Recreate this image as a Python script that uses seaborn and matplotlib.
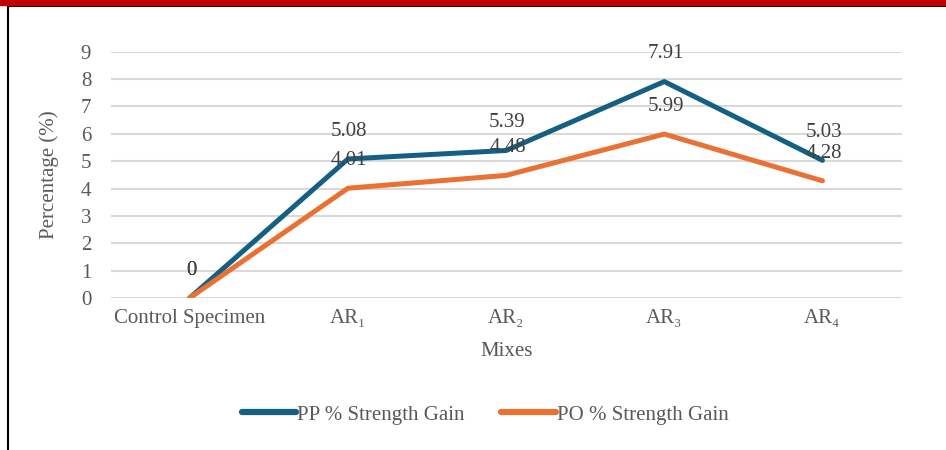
import pandas as pd
import matplotlib.pyplot as plt
import seaborn as sns
from matplotlib.lines import Line2D

# Data
mixes = ["Control Specimen", "AR\u2081", "AR\u2082", "AR\u2083", "AR\u2084"]
pp_gain = [0, 5.08, 5.39, 7.91, 5.03]
po_gain = [0, 4.01, 4.48, 5.99, 4.28]
series_names = ["PP % Strength Gain", "PO % Strength Gain"]

df = pd.DataFrame({
    "Mixes": mixes * 2,
    "pos": list(range(len(mixes))) * 2,
    "Percentage": pp_gain + po_gain,
    "Series": [series_names[0]] * len(mixes) + [series_names[1]] * len(mixes),
})

sns.set_theme(style="white")
plt.rcParams["font.family"] = ["Liberation Serif", "DejaVu Serif"]
text_col = "#595959"
colors = {series_names[0]: "#156082", series_names[1]: "#E97132"}

fig = plt.figure(figsize=(9.46, 4.5), dpi=100)
ax = fig.add_axes([0.117, 0.338, 0.836, 0.547])

sns.lineplot(data=df, x="pos", y="Percentage", hue="Series", palette=colors,
             linewidth=3.6, ax=ax, legend=False, zorder=3)

# data labels above each point
for name, vals in zip(series_names, [pp_gain, po_gain]):
    for i, v in enumerate(vals):
        ax.annotate(f"{v:g}", (i, v), xytext=(1, 20), textcoords="offset points",
                    ha="center", va="center", fontsize=15, color="#404040", zorder=4)

ax.set_xlim(-0.5, len(mixes) - 0.5)
ax.set_ylim(0, 9)
ax.set_yticks(range(0, 10))
ax.set_xticks(range(len(mixes)))
ax.set_xticklabels(mixes)
ax.grid(axis="y", color="#D9D9D9", linewidth=1.5, zorder=0)
ax.grid(axis="x", visible=False)
for s in ax.spines.values():
    s.set_visible(False)
ax.tick_params(axis="both", length=0, labelsize=15, labelcolor=text_col)
ax.tick_params(axis="y", pad=14)
ax.tick_params(axis="x", pad=8)
ax.set_xlabel("Mixes", fontsize=15, color=text_col, labelpad=10)
ax.set_ylabel("Percentage (%)", fontsize=15, color=text_col, labelpad=16)

handles = [Line2D([0], [0], color=colors[n], linewidth=4.5, solid_capstyle="round")
           for n in series_names]
fig.legend(handles, series_names, loc="center", bbox_to_anchor=(0.513, 0.078),
           ncol=2, frameon=False, fontsize=15, handlelength=2.6,
           handletextpad=0.05, columnspacing=1.75, labelcolor=text_col)

# red band at top and black frame edges
fig.patches.append(plt.Rectangle((0, 0.988), 1, 0.012, transform=fig.transFigure,
                                 color="#C00000", zorder=5))
fig.lines.append(Line2D([0.0085, 0.0085], [0, 0.988], transform=fig.transFigure,
                        color="black", linewidth=1.5))
fig.lines.append(Line2D([0.0085, 1], [0.986, 0.986], transform=fig.transFigure,
                        color="black", linewidth=1.5))

fig.savefig("out.png", dpi=100)
